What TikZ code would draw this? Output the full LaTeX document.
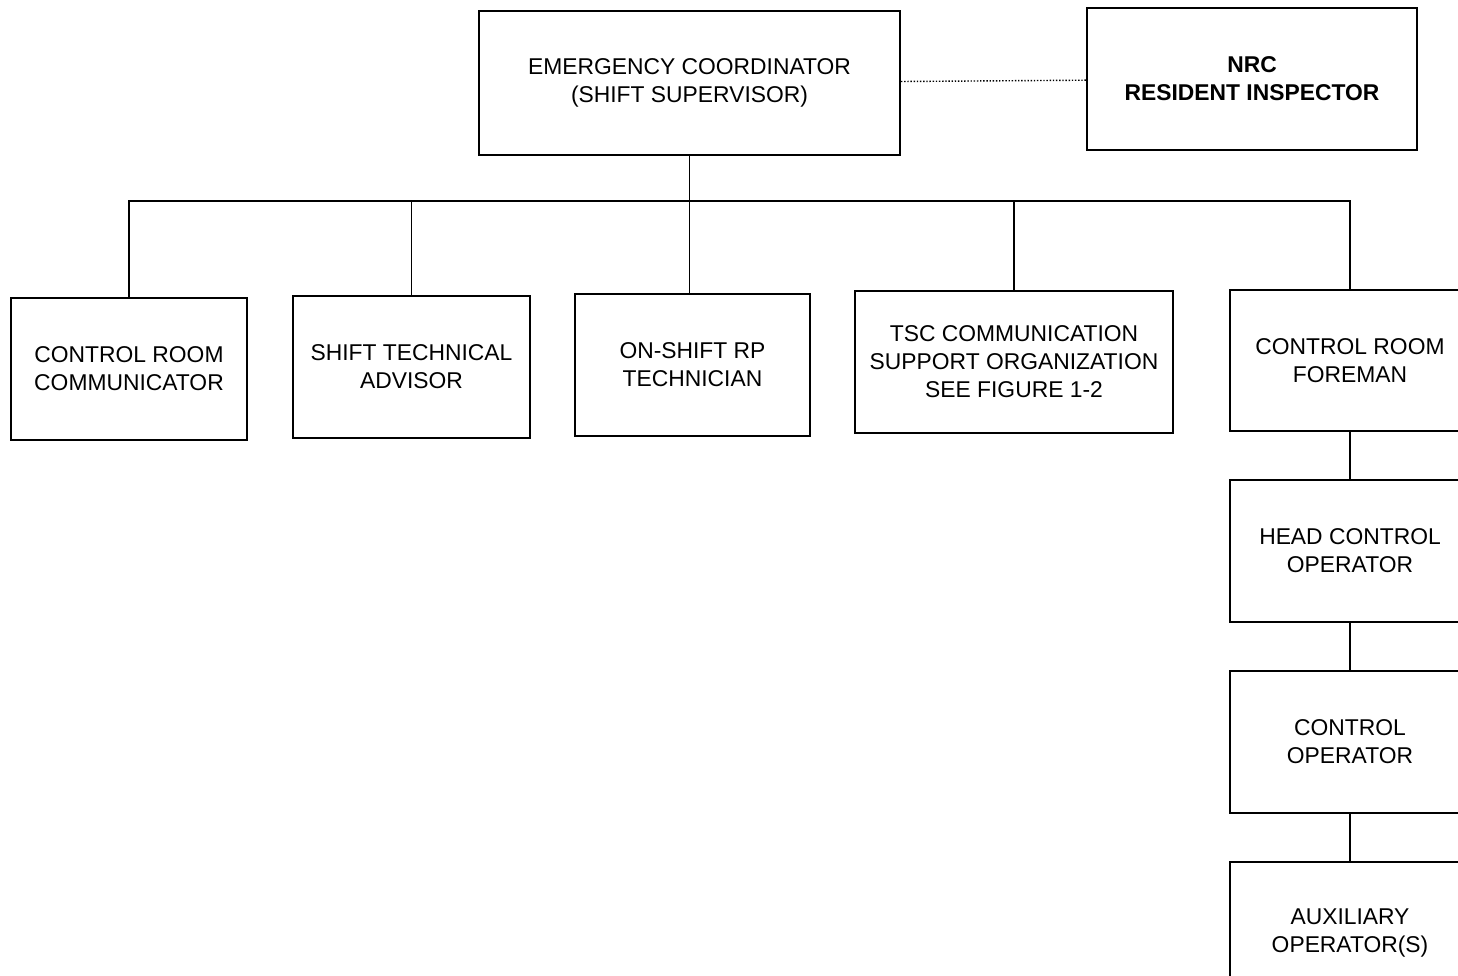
\documentclass[tikz,border=0pt]{standalone}
\usepackage{fontspec}
\setmainfont{Liberation Sans}
\usetikzlibrary{positioning}
\tikzset{
  every picture/.style={line width=0.8pt},
  box/.style={draw, line width=1.1pt, minimum width=4.72cm, minimum height=2.84cm, align=center, inner sep=2pt, font=\fontsize{13}{16}\selectfont},
  link/.style={draw, line width=0.8pt},
}
\begin{document}
\begin{tikzpicture}[node distance=0.94cm]
  \useasboundingbox (0,0) rectangle (29.16,-19.5);
  \clip (0,0) rectangle (29.16,-19.5);
  \node[box, minimum width=8.42cm, minimum height=2.88cm] (coord) at (13.79,-1.66) {EMERGENCY COORDINATOR\\(SHIFT SUPERVISOR)};
  \node[box, minimum width=6.6cm, font=\fontsize{13}{16}\selectfont\bfseries] (nrc) at (25.04,-1.58) {NRC\\RESIDENT INSPECTOR};
  \node[box] (comm) at (2.58,-7.38) {CONTROL ROOM\\COMMUNICATOR};
  \node[box, minimum width=4.74cm] (sta) at (8.23,-7.34) {SHIFT TECHNICAL\\ADVISOR};
  \node[box, minimum width=4.70cm] (rp) at (13.85,-7.30) {ON-SHIFT RP\\TECHNICIAN};
  \node[box, minimum width=6.36cm] (tsc) at (20.28,-7.24) {TSC COMMUNICATION\\SUPPORT ORGANIZATION\\SEE FIGURE 1-2};
  \node[box, minimum width=4.8cm, minimum height=2.82cm] (foreman) at (27.0,-7.21) {CONTROL ROOM\\FOREMAN};
  \node[box, minimum width=4.8cm, below=of foreman] (head) {HEAD CONTROL\\OPERATOR};
  \node[box, minimum width=4.8cm, below=of head] (ctrlop) {CONTROL\\OPERATOR};
  \node[box, minimum width=4.8cm, below=of ctrlop] (aux) {AUXILIARY\\OPERATOR(S)};
  \coordinate (bus) at (13.79,-4.02);
  \draw[densely dotted, line width=0.8pt] (coord) -- (nrc);
  \draw[link] (coord) -- (bus);
  \draw[link] (comm.north) |- (bus) -| (foreman.north);
  \draw[link] (sta.north) -- (sta.north |- bus);
  \draw[link] (bus) -- (bus |- rp.north);
  \draw[link] (tsc.north) -- (tsc.north |- bus);
  \draw[link] (foreman) -- (head);
  \draw[link] (head) -- (ctrlop);
  \draw[link] (ctrlop) -- (aux);
\end{tikzpicture}
\end{document}
